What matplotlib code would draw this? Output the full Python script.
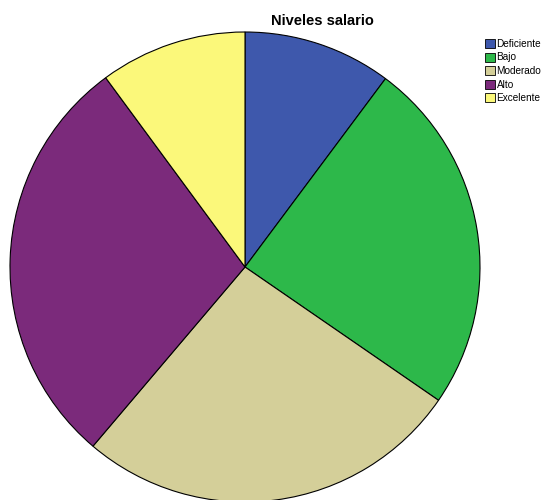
import matplotlib.pyplot as plt
from matplotlib.patches import Patch

# salary levels, share of respondents (%)
labels = ['Deficiente', 'Bajo', 'Moderado', 'Alto', 'Excelente']
values = [10.2, 24.4, 26.6, 28.7, 10.1]
colors = ['#3e58ac', '#2db84a', '#d4cf99', '#7b2a7b', '#fbf87a']

fig = plt.figure(figsize=(5.45, 5.0), dpi=100)
ax = fig.add_axes([10 / 545, -2 / 500, 470 / 545, 470 / 500])

ax.pie(values, colors=colors, startangle=90, counterclock=False,
       radius=1, wedgeprops={'edgecolor': 'black', 'linewidth': 0.8})
ax.set_xlim(-1, 1)
ax.set_ylim(-1, 1)
ax.set_aspect('equal')
ax.axis('off')

fig.text(322 / 545, 1 - 21 / 500, 'Niveles salario', ha='center', va='center',
         fontsize=10.5, fontweight='bold', family='Liberation Sans')

handles = [Patch(facecolor=c, edgecolor='black', linewidth=0.6) for c in colors]
fig.legend(handles, labels, loc='upper left', bbox_to_anchor=(478 / 545, 1 - 32 / 500),
           frameon=False, handlelength=1.0, handleheight=1.0,
           handletextpad=0.15, labelspacing=0.35, borderpad=0.2,
           prop={'family': 'Liberation Sans', 'size': 7.2})

fig.savefig('out.png', dpi=100)
